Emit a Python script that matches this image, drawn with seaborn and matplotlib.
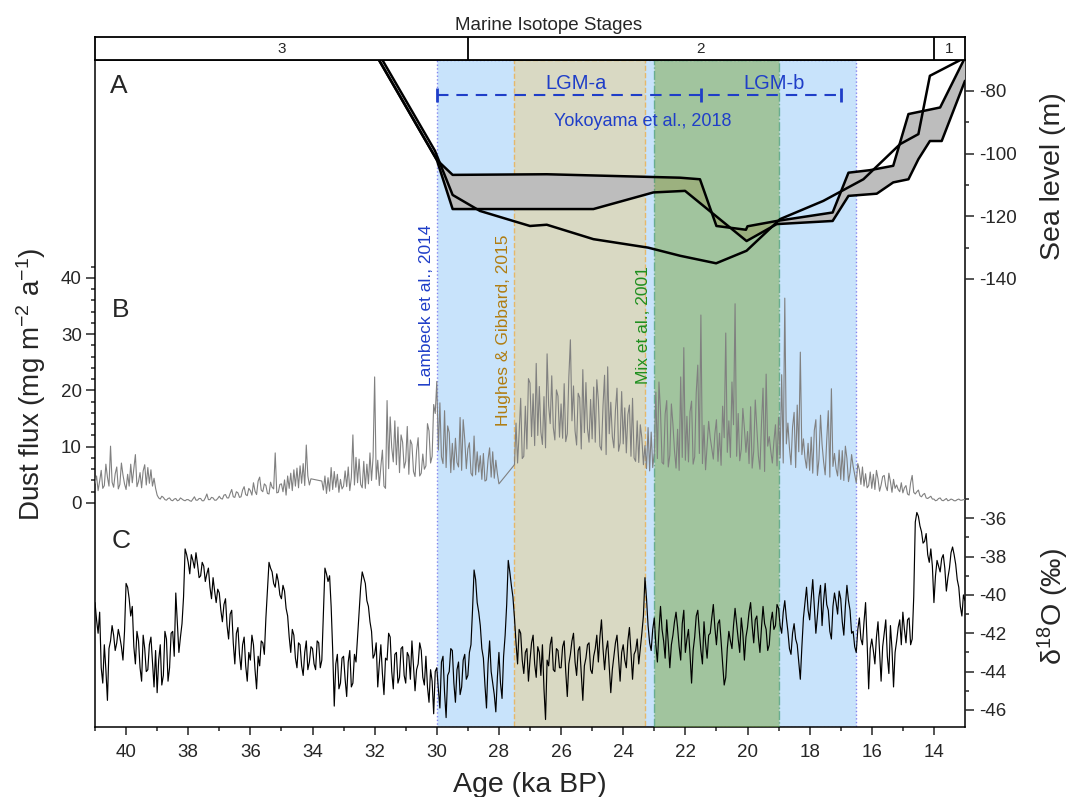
import numpy as np
import pandas as pd
import matplotlib
matplotlib.use("Agg")
import matplotlib.pyplot as plt
import seaborn as sns
from matplotlib import font_manager

nan = np.nan

# ---------------- data ----------------
mis_labels = ["3", "2", "1"]
mis_bounds = [41.0, 29.0, 14.0, 13.0]

lambeck_span = [30.0, 16.5]
hughes_span = [27.5, 23.3]
mix_span = [23.0, 19.0]
yokoyama_ticks = [30.0, 21.5, 17.0]
yokoyama_level = -81.4

# sea level (m): single curve
sl_line_age = [31.76, 30.06, 29.49, 28.61, 27.54, 27.00, 26.46, 24.96, 23.20, 22.17,
               21.01, 20.03, 18.95, 17.56, 16.27, 15.09, 14.50, 14.13, 13.00]
sl_line_val = [-70.0, -99.1, -113.2, -118.3, -121.5, -123.1, -122.7, -127.3, -130.0, -132.6,
               -135.0, -131.0, -120.9, -115.1, -108.2, -97.0, -93.8, -75.2, -69.4]
# sea level envelope (upper / lower edge)
band_up_age = [31.87, 30.00, 29.49, 26.46, 22.17, 21.53, 21.00, 20.05, 20.00, 19.06,
               17.26, 16.75, 16.06, 15.31, 14.82, 13.80, 13.00]
band_up_val = [-70.0, -102.0, -106.8, -106.6, -107.7, -108.2, -123.1, -124.3, -123.2, -121.5,
               -118.8, -106.1, -105.3, -103.9, -87.4, -85.3, -69.4]
band_lo_age = [31.87, 30.00, 29.49, 24.96, 23.03, 22.01, 20.03, 19.06, 17.26, 16.75,
               15.84, 15.31, 14.82, 14.50, 14.13, 13.75, 13.00]
band_lo_val = [-70.0, -102.0, -117.7, -117.7, -112.4, -111.9, -127.9, -122.5, -121.5, -113.5,
               -112.8, -109.2, -108.2, -101.8, -96.0, -96.0, -76.8]

# records sampled every 0.05 ka from 41.0 to 13.0 ka (one row per ka)
record_start = 41.0
record_step = 0.05

dust_flux = [
    3.5, 4.8, 2.2, 3.9, 5.8, 2.6, 3.1, 6.9, 4.6, 3.0, 10.1, 3.7, 2.8, 5.2, 6.4, 2.5, 3.3, 7.1, 5.0, 3.4,
    2.4, 5.1, 3.0, 6.9, 3.6, 6.1, 8.6, 2.9, 3.8, 5.4, 2.7, 5.7, 6.8, 3.2, 6.3, 3.5, 5.9, 3.0, 4.4, 2.6,
    1.4, 0.9, 0.7, 1.2, 1.0, 0.6, 0.5, 0.8, 0.9, 0.5, 0.4, 0.7, 0.8, 0.4, 0.5, 0.9, 0.7, 0.5, 0.4, 0.6,
    0.6, 0.4, 0.3, 0.7, 1.1, 0.5, 0.5, 0.8, 0.8, 0.4, 0.4, 0.9, 1.6, 0.6, 0.6, 1.0, 0.9, 0.5, 0.5, 0.8,
    1.2, 0.8, 0.7, 1.4, 1.5, 0.9, 0.9, 1.7, 2.4, 1.1, 1.0, 2.0, 1.8, 1.0, 1.1, 2.3, 2.9, 1.5, 1.3, 2.6,
    2.2, 1.4, 3.6, 2.1, 1.5, 3.9, 4.6, 2.3, 2.0, 3.4, 3.1, 1.7, 1.6, 3.7, 2.8, 2.5, 8.9, 1.8, 1.9, 3.3,
    3.4, 2.0, 4.1, 1.4, 4.8, 2.6, 5.3, 2.2, 5.9, 3.0, 6.2, 2.7, 6.6, 3.5, 7.0, 3.1, 10.3, 4.8, 3.2, 4.3,
    nan, nan, nan, nan, nan, nan, 3.9, 2.3, 4.8, 1.7, 4.5, 2.1, 6.3, 2.4, 5.6, 2.8, 5.1, 1.9, 4.2, 2.5,
    3.0, 5.7, 2.9, 6.4, 2.2, 4.5, 12.1, 3.2, 8.1, 3.6, 7.8, 3.3, 2.7, 7.4, 2.6, 6.9, 3.4, 8.9, 4.0, 8.2,
    22.4, 4.2, 7.6, 3.1, 6.5, 9.4, 3.0, 2.6, 18.2, 6.1, 15.3, 9.8, 7.3, 14.6, 6.8, 13.5, 5.4, 12.1, 10.8, 6.2,
    7.4, 13.6, 5.1, 11.2, 10.4, 5.6, 4.7, 9.3, 11.6, 4.8, 5.3, 8.7, 6.0, 6.6, 14.1, 12.8, 7.1, 8.3, 17.5, 15.9,
    21.6, 9.4, 17.8, 8.2, 7.0, 16.4, 6.3, 13.7, 12.5, 5.4, 10.6, 5.9, 11.5, 7.2, 6.4, 15.2, 5.8, 14.8, 11.3, 6.1,
    9.6, 10.7, 5.3, 4.8, 11.9, 5.0, 9.1, 5.5, 8.4, 4.2, 8.8, 3.9, 4.1, 7.7, 9.8, 4.6, 9.1, 4.4, 7.6, 5.2,
    3.4, nan, nan, nan, nan, nan, nan, nan, nan, nan, 6.8, 14.2, 7.1, 12.4, 18.6, 7.9, 8.3, 17.2, 9.6, 22.1,
    21.3, 11.8, 19.4, 10.2, 24.8, 12.0, 20.7, 12.6, 10.4, 18.9, 9.8, 26.5, 17.3, 14.1, 22.6, 13.4, 11.2, 20.1, 19.0, 11.7,
    17.6, 11.5, 21.2, 10.9, 12.3, 22.4, 29.0, 14.6, 20.8, 12.8, 10.3, 19.5, 18.7, 9.6, 23.7, 12.5, 21.4, 13.2, 10.8, 18.4,
    11.4, 20.6, 10.8, 21.9, 18.2, 10.1, 9.4, 17.3, 22.7, 8.6, 24.2, 12.3, 17.9, 11.8, 9.8, 16.5, 20.4, 9.2, 10.7, 19.8,
    10.5, 16.9, 8.9, 15.7, 17.4, 8.3, 18.6, 8.0, 7.4, 14.6, 7.2, 13.9, 11.5, 6.8, 10.2, 6.1, 13.4, 5.7, 12.6, 6.3,
    8.9, 19.7, 7.9, 21.5, 16.3, 7.2, 6.9, 15.8, 18.2, 6.4, 8.5, 17.6, 14.0, 9.3, 6.2, 13.1, 5.8, 22.4, 8.1, 27.6,
    7.6, 15.4, 7.3, 16.2, 18.1, 6.9, 8.2, 19.6, 24.5, 8.8, 33.4, 7.0, 13.8, 5.9, 10.3, 14.5, 11.6, 9.7, 7.8, 12.3,
    14.8, 7.4, 12.4, 6.7, 17.2, 11.6, 30.2, 9.0, 14.6, 8.1, 21.5, 13.9, 35.4, 8.3, 15.9, 7.5, 9.6, 16.8, 13.3, 9.0,
    12.7, 7.0, 17.1, 6.2, 9.2, 18.3, 13.3, 8.4, 6.0, 14.1, 20.4, 5.6, 22.9, 10.1, 11.8, 9.2, 7.1, 11.0, 13.9, 6.6,
    15.2, 8.0, 22.8, 7.1, 36.4, 10.5, 14.2, 9.8, 6.8, 13.5, 16.1, 6.3, 17.4, 9.1, 26.8, 8.6, 11.4, 8.0, 6.2, 10.6,
    5.8, 11.7, 5.3, 12.9, 14.8, 4.9, 7.8, 15.6, 10.4, 7.3, 5.0, 11.2, 16.4, 4.6, 20.3, 6.5, 8.8, 6.1, 4.8, 9.4,
    4.2, 9.3, 4.0, 10.1, 7.9, 3.8, 5.4, 8.6, 6.5, 5.1, 3.6, 7.0, 5.9, 3.3, 6.4, 3.0, 5.2, 2.7, 3.1, 5.5,
    2.6, 5.1, 2.4, 5.8, 4.3, 2.1, 3.2, 4.7, 4.9, 3.0, 2.2, 5.3, 3.8, 1.9, 4.2, 2.6, 3.2, 2.4, 2.0, 3.6,
    1.8, 2.7, 3.1, 1.6, 1.4, 3.6, 4.9, 1.9, 1.6, 2.0, 2.3, 1.3, 1.1, 1.5, 1.7, 0.9, 0.8, 1.0, 1.2, 0.7,
    0.7, 0.4, 0.5, 0.8, 0.9, 0.5, 0.4, 0.6, 0.8, 0.4, 0.5, 0.7, 0.6, 0.4, 0.4, 0.6, 0.7, 0.5, 0.5, 0.6,
    0.6,
]

d18o = [
    -40.4, -41.3, -42.0, -40.9, -43.8, -44.6, -42.6, -43.9, -45.5, -42.8, -42.4, -41.6, -42.1, -42.9, -42.5, -41.8, -42.2, -42.7, -43.4, -41.9,
    -39.4, -39.6, -40.2, -41.1, -40.6, -42.7, -43.6, -41.9, -42.4, -43.8, -44.5, -42.1, -42.8, -44.0, -43.9, -42.6, -42.2, -43.5, -44.8, -42.9,
    -45.1, -43.4, -42.6, -44.7, -44.2, -41.9, -42.3, -44.5, -43.8, -42.0, -41.9, -43.2, -39.9, -41.4, -43.0, -42.2, -41.5, -40.1, -37.6, -37.9,
    -38.3, -38.9, -37.9, -38.2, -38.6, -37.8, -38.4, -39.1, -39.0, -38.3, -38.5, -39.3, -38.9, -38.6, -39.6, -40.2, -39.1, -39.8, -40.4, -39.7,
    -39.9, -40.8, -41.4, -40.5, -40.2, -41.6, -42.3, -41.0, -40.8, -42.5, -43.6, -42.0, -41.7, -43.1, -43.9, -42.6, -42.2, -43.7, -44.5, -43.0,
    -43.4, -42.1, -42.6, -43.9, -44.9, -43.2, -43.7, -42.4, -42.5, -43.1, -41.2, -39.7, -38.3, -38.6, -38.8, -39.4, -39.6, -38.9, -39.3, -40.0,
    -40.2, -39.5, -39.8, -40.7, -41.1, -42.2, -43.0, -41.8, -42.1, -43.3, -43.8, -42.5, -42.6, -43.7, -44.2, -43.0, -42.4, -43.9, -43.5, -42.7,
    -42.8, -43.6, -43.9, -42.4, -42.5, -43.8, -43.4, -41.0, -38.6, -38.9, -39.3, -39.0, -40.6, -42.9, -45.8, -43.6, -43.1, -44.9, -44.6, -43.3,
    -43.2, -44.4, -45.3, -43.5, -42.9, -44.8, -44.6, -43.1, -43.5, -42.2, -40.9, -39.6, -38.8, -39.1, -39.4, -40.3, -40.6, -41.4, -41.9, -43.3,
    -43.1, -42.5, -44.8, -43.6, -42.6, -44.1, -45.2, -43.3, -43.4, -42.0, -42.2, -44.0, -44.9, -43.1, -43.0, -44.6, -44.3, -42.8, -42.7, -44.2,
    -44.6, -43.0, -43.2, -44.4, -42.4, -43.7, -45.0, -43.9, -43.6, -42.5, -42.9, -44.3, -44.7, -43.2, -44.8, -45.6, -43.9, -44.5, -46.2, -44.0,
    -43.8, -44.9, -45.9, -43.5, -43.2, -45.1, -46.4, -44.2, -44.0, -42.8, -42.9, -44.6, -45.6, -43.9, -43.5, -45.2, -44.8, -43.4, -43.1, -44.4,
    -44.2, -43.0, -42.6, -40.8, -38.7, -39.2, -40.4, -40.9, -41.6, -42.8, -43.3, -44.7, -45.9, -43.6, -42.4, -44.0, -44.6, -45.2, -46.1, -44.3,
    -43.0, -44.6, -45.4, -43.2, -42.1, -40.5, -38.2, -38.8, -39.5, -40.1, -41.2, -42.5, -43.6, -41.8, -42.0, -43.4, -44.1, -43.0, -42.8, -44.5,
    -43.4, -42.5, -42.1, -43.6, -44.3, -42.7, -43.0, -44.2, -42.6, -44.9, -46.5, -43.4, -43.7, -42.6, -42.2, -43.9, -44.0, -42.8, -42.9, -43.8,
    -43.8, -42.7, -42.4, -44.0, -45.3, -43.6, -43.1, -42.4, -42.0, -43.5, -44.2, -42.9, -42.7, -44.1, -45.5, -43.7, -43.3, -42.6, -42.5, -43.9,
    -44.1, -43.2, -42.8, -42.1, -43.5, -42.2, -41.3, -42.8, -43.9, -42.9, -42.4, -43.8, -45.1, -43.9, -43.2, -42.5, -42.1, -43.3, -44.5, -43.0,
    -42.6, -43.4, -43.8, -42.4, -41.7, -43.0, -44.4, -43.1, -42.9, -42.3, -43.6, -42.8, -42.0, -41.1, -39.1, -40.2, -41.6, -42.5, -42.9, -41.8,
    -41.2, -42.6, -43.5, -41.9, -40.6, -41.8, -42.4, -43.3, -41.3, -42.5, -43.8, -42.6, -42.1, -41.4, -40.9, -41.7, -42.7, -43.4, -41.5, -40.8,
    -43.0, -42.3, -41.8, -43.1, -44.6, -42.9, -42.2, -41.1, -40.8, -41.9, -42.9, -43.6, -41.4, -42.5, -43.3, -42.1, -42.0, -41.2, -40.5, -41.7,
    -42.6, -41.5, -41.3, -42.4, -43.6, -44.7, -44.3, -42.8, -41.9, -42.4, -42.8, -41.6, -40.7, -41.5, -42.3, -43.0, -41.2, -42.0, -43.4, -42.2,
    -41.7, -40.9, -40.4, -41.6, -42.5, -41.3, -41.1, -42.2, -43.0, -41.7, -40.6, -41.5, -41.8, -42.9, -42.6, -41.4, -40.9, -41.8, -41.6, -40.5,
    -40.7, -41.6, -42.0, -40.9, -40.3, -41.2, -41.9, -42.8, -43.1, -42.0, -41.5, -42.3, -42.6, -43.5, -44.4, -42.7, -41.2, -40.4, -39.6, -40.8,
    -41.3, -40.2, -39.2, -40.6, -42.0, -41.1, -40.1, -39.5, -41.6, -40.3, -39.4, -40.5, -40.8, -41.9, -42.3, -40.6, -39.9, -40.4, -41.0, -39.8,
    -40.2, -41.4, -42.1, -40.6, -39.5, -40.3, -40.8, -42.0, -41.9, -42.7, -43.0, -41.8, -41.2, -42.3, -42.6, -41.4, -40.4, -42.5, -44.9, -42.8,
    -42.3, -42.9, -43.6, -42.2, -41.4, -43.0, -44.5, -42.7, -42.0, -41.3, -43.2, -44.1, -41.6, -42.8, -44.8, -43.0, -42.4, -41.7, -41.3, -42.6,
    -40.9, -41.8, -42.5, -41.3, -41.2, -42.6, -42.3, -40.1, -36.2, -35.7, -35.9, -36.4, -36.7, -37.3, -37.2, -36.8, -37.9, -38.3, -37.6, -38.5,
    -40.4, -39.0, -38.2, -38.5, -38.8, -38.1, -37.9, -38.6, -39.8, -39.1, -38.6, -37.8, -37.5, -37.9, -38.4, -39.2, -39.6, -40.6, -41.1, -40.0,
    -40.3,
]

x_ticks = [40, 38, 36, 34, 32, 30, 28, 26, 24, 22, 20, 18, 16, 14]
dust_ticks = [0, 10, 20, 30, 40]
sl_ticks = [-80, -100, -120, -140]
d18o_ticks = [-36, -38, -40, -42, -44, -46]

# ---------------- style ----------------
sns.set_style("ticks")
plt.rcParams.update({
    "font.family": ["Liberation Sans", "DejaVu Sans"],
    "axes.unicode_minus": False,
    "mathtext.fontset": "custom",
    "mathtext.rm": "Liberation Sans",
    "mathtext.it": "Liberation Sans:italic",
    "mathtext.bf": "Liberation Sans:bold",
    "axes.linewidth": 1.1,
    "xtick.major.width": 1.1,
    "ytick.major.width": 1.1,
    "xtick.minor.width": 1.1,
    "ytick.minor.width": 1.1,
    "xtick.direction": "out",
    "ytick.direction": "out",
})
font_names = {f.name for f in font_manager.fontManager.ttflist}
has_narrow = "Liberation Sans Narrow" in font_names

BLUE = "#1f3ec8"
W, H = 1069, 797
fig = plt.figure(figsize=(W / 100, H / 100), dpi=100)


def fx(px):
    return px / W


def fy(py):
    return 1 - py / H


L, R, T, B = 95, 965, 59.5, 727
ax = fig.add_axes([fx(L), fy(B), (R - L) / W, (B - T) / H])
axA = ax.twinx()
axD = ax.twinx()
axC = ax.twinx()
for a in (axA, axD, axC):
    for s in a.spines.values():
        s.set_visible(False)
for s in ax.spines.values():
    s.set_linewidth(1.1)
    s.set_color("black")

# shaded intervals (bottom layer)
ax.axvspan(*lambeck_span, facecolor="#c8e3fb", edgecolor="#8585f0", ls=":", lw=1.0, zorder=0)
ax.axvspan(*hughes_span, facecolor="#d9d9c3", edgecolor="#e6b86a", ls="--", lw=1.0, zorder=0.5)

# sea level panel (A)
poly_x = list(band_up_age) + list(band_lo_age[::-1])
poly_y = list(band_up_val) + list(band_lo_val[::-1])
axA.fill(poly_x, poly_y, facecolor="#bdbdbd", edgecolor="none", zorder=1)
axA.axvspan(*mix_span, facecolor=(124 / 255, 167 / 255, 67 / 255), alpha=0.5,
            edgecolor="#1f8a5a", ls="-.", lw=1.0, zorder=2)
sns.lineplot(x=band_up_age, y=band_up_val, ax=axA, color="black", lw=1.8, sort=False,
             estimator=None, zorder=3)
sns.lineplot(x=band_lo_age, y=band_lo_val, ax=axA, color="black", lw=1.8, sort=False,
             estimator=None, zorder=3)
sns.lineplot(x=sl_line_age, y=sl_line_val, ax=axA, color="black", lw=1.8, sort=False,
             estimator=None, zorder=3)

# Yokoyama bracket
axA.plot([yokoyama_ticks[0], yokoyama_ticks[-1]], [yokoyama_level] * 2, color=BLUE,
         lw=1.5, ls=(0, (5.5, 3.8)), zorder=4)
axA.plot(yokoyama_ticks, [yokoyama_level] * 3, ls="none", marker="|", ms=10, mew=2,
         color=BLUE, zorder=4)
axA.text(25.52, -79.4, "LGM-a", color=BLUE, fontsize=14.5, ha="center", va="baseline", zorder=5)
axA.text(19.15, -79.4, "LGM-b", color=BLUE, fontsize=14.5, ha="center", va="baseline", zorder=5)
if has_narrow:
    axA.text(23.36, -91.2, "Yokoyama et al., 2018", color=BLUE, fontsize=15,
             family="Liberation Sans Narrow", ha="center", va="baseline", zorder=5)
else:
    axA.text(23.36, -91.2, "Yokoyama et al., 2018", color=BLUE, fontsize=13,
             ha="center", va="baseline", zorder=5)

# vertical labels
axA.text(30.32, -174.1, "Lambeck et al., 2014", color=BLUE, fontsize=12.5, rotation=90,
         ha="center", va="bottom", zorder=5)
axA.text(27.86, -186.9, "Hughes & Gibbard, 2015", color="#b07d12", fontsize=12.5, rotation=90,
         ha="center", va="bottom", zorder=5)
axA.text(23.35, -173.6, "Mix et al., 2001", color="#1f8f1f", fontsize=12.5, rotation=90,
         ha="center", va="bottom", zorder=5)

# dust (B)
ages_dust = np.round(record_start - record_step * np.arange(len(dust_flux)), 3)
df_dust = pd.DataFrame({"age": ages_dust, "dust": dust_flux}).dropna()
sns.lineplot(data=df_dust, x="age", y="dust", ax=axD, color="#808080", lw=0.8,
             sort=False, estimator=None)

# d18O (C)
ages_iso = np.round(record_start - record_step * np.arange(len(d18o)), 3)
df_iso = pd.DataFrame({"age": ages_iso, "d18o": d18o})
sns.lineplot(data=df_iso, x="age", y="d18o", ax=axC, color="black", lw=0.85,
             sort=False, estimator=None)

# ---------------- axes limits / ticks ----------------
ax.set_xlim(41, 13)
ax.set_xticks(x_ticks)
ax.set_xticks(list(range(41, 13, -2)), minor=True)
ax.tick_params(axis="x", which="major", length=6, labelsize=13.5, pad=6)
ax.tick_params(axis="x", which="minor", length=3)
ax.set_xlabel("")
ax.set_ylabel("")

ax.set_ylim(-39.8, 78.8)
ax.set_yticks(dust_ticks)
ax.set_yticks([v for v in range(2, 43, 2) if v % 10 != 0], minor=True)
ax.tick_params(axis="y", which="major", left=True, right=False, length=6.5, labelsize=13.5, pad=3)
ax.tick_params(axis="y", which="minor", left=True, right=False, length=3)

axD.set_ylim(-39.8, 78.8)
axD.set_yticks([])
axD.set_xlabel("")
axD.set_ylabel("")

axA.set_ylim(-282.9, -70)
axA.set_yticks(sl_ticks)
axA.set_yticks([-90, -110, -130], minor=True)
axA.tick_params(axis="y", which="major", length=6.5, labelsize=13.5, pad=4)
axA.tick_params(axis="y", which="minor", length=3)
axA.set_xlabel("")
axA.set_ylabel("")

axC.set_ylim(-46.89, -12.07)
axC.set_yticks(d18o_ticks)
axC.set_yticks([-35, -37, -39, -41, -43, -45], minor=True)
axC.tick_params(axis="y", which="major", length=6.5, labelsize=13.5, pad=4)
axC.tick_params(axis="y", which="minor", length=3)
axC.set_xlabel("")
axC.set_ylabel("")
ax.set_xlim(41, 13)

# ---------------- MIS bar ----------------
axM = fig.add_axes([fx(L), fy(T), (R - L) / W, (T - 37) / H])
axM.set_xlim(41, 13)
axM.set_ylim(0, 1)
axM.set_xticks([])
axM.set_yticks([])
for s in axM.spines.values():
    s.set_linewidth(1.3)
    s.set_color("black")
for b in mis_bounds[1:-1]:
    axM.axvline(b, color="black", lw=1.3)
for lab, a0, a1 in zip(mis_labels, mis_bounds[:-1], mis_bounds[1:]):
    axM.text((a0 + a1) / 2, 0.45, lab, ha="center", va="center", fontsize=11)
fig.text(fx(549), fy(30), "Marine Isotope Stages", ha="center", va="baseline", fontsize=13.5)

# ---------------- labels ----------------
fig.text(fx(110), fy(93), "A", fontsize=19, ha="left", va="baseline")
fig.text(fx(112), fy(317), "B", fontsize=19, ha="left", va="baseline")
fig.text(fx(112), fy(548), "C", fontsize=19, ha="left", va="baseline")

fig.text(fx(530), fy(792), "Age (ka BP)", fontsize=20.5, ha="center", va="baseline")
fig.text(fx(31), fy(384), r"Dust flux (mg m$\mathregular{^{-2}}$ a$\mathregular{^{-1}}$)",
         fontsize=20, rotation=90, ha="center", va="center")
fig.text(fx(1053), fy(176), "Sea level (m)", fontsize=20.5, rotation=90, ha="center", va="center")
fig.text(fx(1053), fy(607), r"$\mathregular{\delta^{18}}$O (‰)", fontsize=20.5, rotation=90,
         ha="center", va="center")

fig.savefig("out.png", dpi=100)
